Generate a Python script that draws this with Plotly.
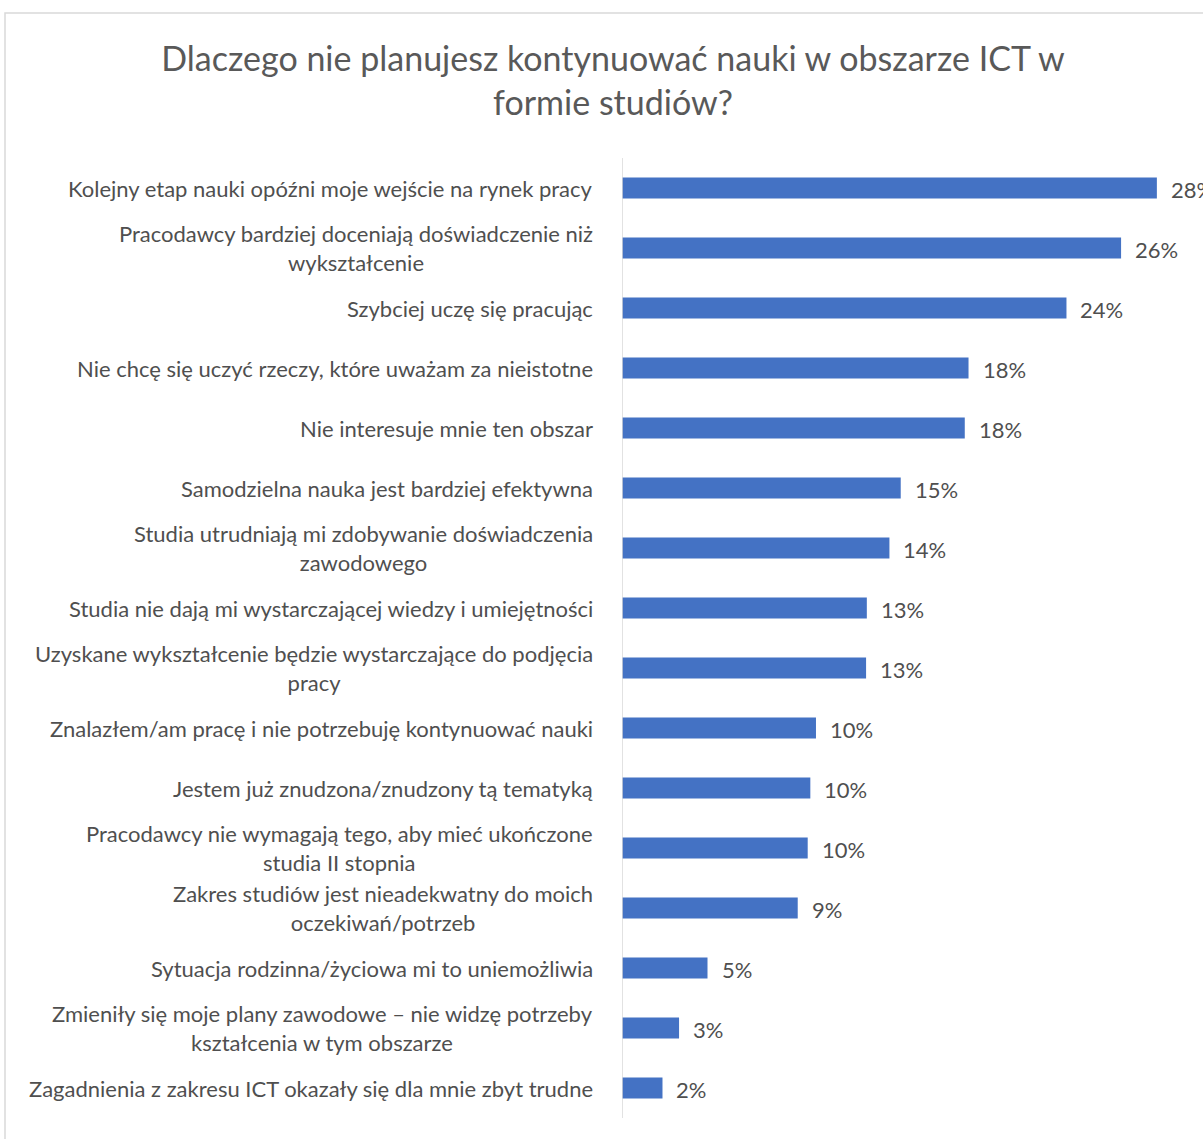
import plotly.graph_objects as go

categories = [
    "Kolejny etap nauki opóźni moje wejście na rynek pracy",
    "Pracodawcy bardziej doceniają doświadczenie niż<br>wykształcenie",
    "Szybciej uczę się pracując",
    "Nie chcę się uczyć rzeczy, które uważam za nieistotne",
    "Nie interesuje mnie ten obszar",
    "Samodzielna nauka jest bardziej efektywna",
    "Studia utrudniają mi zdobywanie doświadczenia<br>zawodowego",
    "Studia nie dają mi wystarczającej wiedzy i umiejętności",
    "Uzyskane wykształcenie będzie wystarczające do podjęcia<br>pracy",
    "Znalazłem/am pracę i nie potrzebuję kontynuować nauki",
    "Jestem już znudzona/znudzony tą tematyką",
    "Pracodawcy nie wymagają tego, aby mieć ukończone<br>studia II stopnia",
    "Zakres studiów jest nieadekwatny do moich<br>oczekiwań/potrzeb",
    "Sytuacja rodzinna/życiowa mi to uniemożliwia",
    "Zmieniły się moje plany zawodowe – nie widzę potrzeby<br>kształcenia w tym obszarze",
    "Zagadnienia z zakresu ICT okazały się dla mnie zbyt trudne",
]
values = [28.4, 26.5, 23.6, 18.4, 18.2, 14.8, 14.2, 13.0, 12.96, 10.3, 10.0, 9.86, 9.33, 4.54, 3.03, 2.15]
value_labels = ["28%", "26%", "24%", "18%", "18%", "15%", "14%", "13%", "13%", "10%", "10%", "10%", "9%", "5%", "3%", "2%"]
ids = list(range(len(categories)))

W, H = 1203, 1139
L, R = 622, 1187
T, B = 158, 1118
FONT = "Lato, 'Open Sans', sans-serif"
GREY = "#4f4f4f"

fig = go.Figure(go.Bar(
    x=values, y=ids, orientation="h",
    marker=dict(color="#4472C4", line=dict(width=0)),
    width=0.35,
    hoverinfo="x+y",
))

annotations = []
for i, c in zip(ids, categories):
    annotations.append(dict(
        x=0, xref="paper", y=i, yref="y", text=c, showarrow=False,
        xanchor="right", yanchor="middle", align="center", xshift=-27,
        font=dict(family=FONT, size=22, color=GREY),
    ))
for i, v, t in zip(ids, values, value_labels):
    annotations.append(dict(
        x=v, xref="x", y=i, yref="y", text=t, showarrow=False,
        xanchor="left", yanchor="middle", xshift=12, yshift=-1,
        font=dict(family=FONT, size=22, color=GREY),
    ))

def px_x(p):
    return (p - L) / (R - L)

def px_y(p):
    return (B - p) / (B - T)

fig.update_layout(
    width=W, height=H,
    margin=dict(l=L, r=W - R, t=T, b=H - B, pad=0),
    paper_bgcolor="white", plot_bgcolor="white",
    title=dict(
        text="Dlaczego nie planujesz kontynuować nauki w obszarze ICT w<br>formie studiów?",
        x=613 / W, xanchor="center", xref="container",
        y=1 - 71 / H, yanchor="middle", yref="container",
        font=dict(family=FONT, size=34, color="#595959"),
    ),
    xaxis=dict(range=[0, 30], visible=False, fixedrange=True),
    yaxis=dict(
        autorange=False, range=[15.5, -0.5], showticklabels=False,
        showgrid=False, zeroline=False, showline=False, type="linear",
    ),
    annotations=annotations,
    shapes=[
        dict(type="line", xref="x", yref="paper", x0=0, x1=0, y0=0, y1=1,
             line=dict(color="#d9d9d9", width=1.5)),
        dict(type="rect", xref="paper", yref="paper",
             x0=px_x(5), x1=px_x(1260), y0=px_y(13), y1=px_y(1200),
             line=dict(color="#d9d9d9", width=1.5), layer="below"),
    ],
    showlegend=False,
    bargap=0.65,
)

fig.write_html("out.html")
